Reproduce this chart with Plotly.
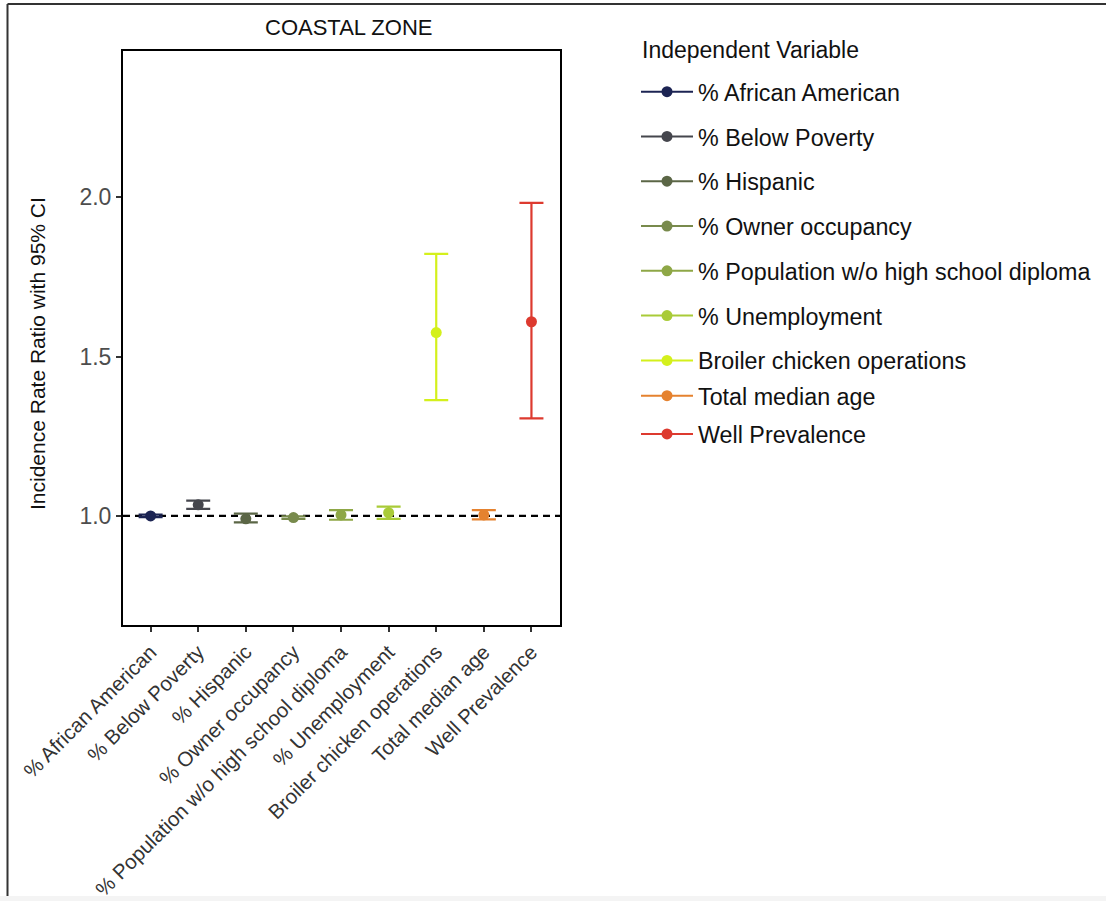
import plotly.graph_objects as go

categories = ["% African American", "% Below Poverty", "% Hispanic", "% Owner occupancy",
              "% Population w/o high school diploma", "% Unemployment",
              "Broiler chicken operations", "Total median age", "Well Prevalence"]
irr = [1.000, 1.035, 0.991, 0.995, 1.003, 1.010, 1.575, 1.003, 1.609]
ci_low = [0.996, 1.022, 0.980, 0.991, 0.988, 0.991, 1.363, 0.989, 1.306]
ci_high = [1.004, 1.048, 1.007, 0.999, 1.018, 1.029, 1.822, 1.018, 1.982]
colors = ["#1c2453", "#45464d", "#5b6646", "#788a4c", "#8ea746", "#a9cb38",
          "#d4f01c", "#e5822f", "#dd3a2f"]
y_ticks = [1.0, 1.5, 2.0]

FONT = "Liberation Sans, Arial, Helvetica, sans-serif"

# plot area in pixels
W, H = 1106, 901
L, R, T, B = 123, 560, 51, 625
PW, PH = R - L, B - T

def px_x(p):
    return (p - L) / PW

def px_y(p):
    return (B - p) / PH

fig = go.Figure()
for i, (c, v, lo, hi, col) in enumerate(zip(categories, irr, ci_low, ci_high, colors)):
    fig.add_trace(go.Scatter(
        x=[c], y=[v], mode="lines+markers", name=c,
        marker=dict(color=col, size=11),
        line=dict(color=col, width=2),
        error_y=dict(type="data", symmetric=False,
                     array=[hi - v], arrayminus=[v - lo],
                     color=col, thickness=2.2, width=12),
        legend="legend" if i < 7 else "legend2",
        legendgroup=c,
    ))

fig.add_shape(type="line", xref="paper", yref="y", x0=0, x1=1, y0=1.0, y1=1.0,
              line=dict(color="black", width=2.2, dash="7px,5px"), layer="below")

# outer screenshot frame
fig.add_shape(type="line", xref="paper", yref="paper",
              x0=px_x(7.5), x1=px_x(7.5), y0=px_y(896), y1=px_y(4),
              line=dict(color="#333", width=2))
fig.add_shape(type="line", xref="paper", yref="paper",
              x0=px_x(7.5), x1=px_x(1110), y0=px_y(4), y1=px_y(4),
              line=dict(color="#333", width=2))
fig.add_shape(type="rect", xref="paper", yref="paper",
              x0=px_x(-5), x1=px_x(1110), y0=px_y(905), y1=px_y(896),
              line=dict(width=0), fillcolor="#f4f4f4")

fig.add_annotation(text="COASTAL ZONE", xref="paper", yref="paper",
                   x=px_x(348), y=px_y(28), showarrow=False,
                   xanchor="center", yanchor="middle",
                   font=dict(family=FONT, size=22, color="#111"))
fig.add_annotation(text="Incidence Rate Ratio with 95% CI", xref="paper", yref="paper",
                   x=px_x(37), y=px_y(354), showarrow=False, textangle=-90,
                   xanchor="center", yanchor="middle",
                   font=dict(family=FONT, size=21, color="#111"))
fig.add_annotation(text="Independent Variable", xref="paper", yref="paper",
                   x=px_x(640), y=px_y(50), showarrow=False,
                   xanchor="left", yanchor="middle",
                   font=dict(family=FONT, size=23, color="#111"))

fig.update_layout(
    width=W, height=H,
    margin=dict(l=L, r=W - R, t=T, b=H - B, autoexpand=False),
    plot_bgcolor="white", paper_bgcolor="white",
    font=dict(family=FONT, color="#111"),
    xaxis=dict(categoryorder="array", categoryarray=categories, automargin=False,
               range=[-0.58, 8.6], tickangle=-45, showgrid=False, zeroline=False,
               showline=True, mirror=True, linecolor="black", linewidth=2,
               ticks="outside", ticklen=5, tickwidth=2, tickcolor="#333",
               tickfont=dict(family=FONT, size=20.5, color="#333")),
    yaxis=dict(range=[0.658, 2.458], tickvals=y_ticks, ticktext=["1.0", "1.5", "2.0"],
               automargin=False, showgrid=False, zeroline=False,
               showline=True, mirror=True, linecolor="black", linewidth=2,
               ticks="outside", ticklen=5, tickwidth=2, tickcolor="#333",
               tickfont=dict(family=FONT, size=23, color="#4d4d4d")),
    legend=dict(x=px_x(636), y=px_y(70), xanchor="left", yanchor="top",
                font=dict(family=FONT, size=23.3, color="#111"),
                itemwidth=52, tracegroupgap=11.5, bgcolor="rgba(0,0,0,0)"),
    legend2=dict(x=px_x(636), y=px_y(374), xanchor="left", yanchor="top",
                 font=dict(family=FONT, size=23.3, color="#111"),
                 itemwidth=52, tracegroupgap=5, bgcolor="rgba(0,0,0,0)"),
    showlegend=True,
)

fig.write_html("out.html")
